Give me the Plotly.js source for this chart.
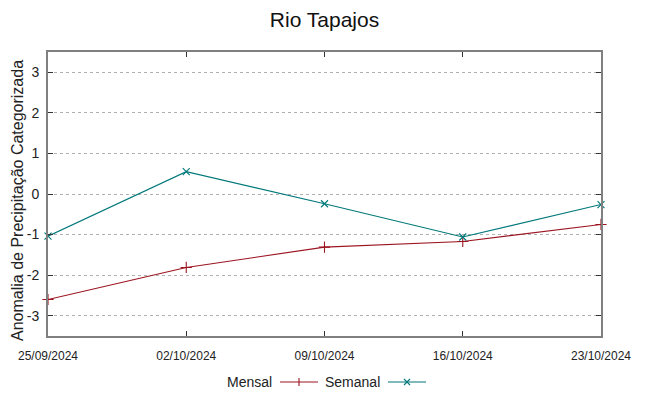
<!DOCTYPE html>
<html>
<head>
<meta charset="utf-8">
<script src="https://cdn.plot.ly/plotly-3.0.1.min.js"></script>
<style>html,body{margin:0;padding:0;background:#fff;}#chart{width:649px;height:396px;}</style>
</head>
<body>
<div id="chart"></div>
<script>
const dates = ["2024-09-25", "2024-10-02", "2024-10-09", "2024-10-16", "2024-10-23"];
const tickLabels = ["25/09/2024", "02/10/2024", "09/10/2024", "16/10/2024", "23/10/2024"];
const yTickVals = [-3, -2, -1, 0, 1, 2, 3];
const yTickLabels = ["-3", "-2", "-1", "0", "1", "2", "3"];
const mensal = [-2.60, -1.81, -1.31, -1.17, -0.75];
const semanal = [-1.04, 0.55, -0.24, -1.06, -0.26];
const seriesNames = ["Mensal", "Semanal"];
const colors = ["#9c1420", "#00787a"];

const traces = [
  {x: dates, y: mensal, name: seriesNames[0], type: "scatter", mode: "lines+markers",
   line: {color: colors[0], width: 1.1},
   marker: {symbol: "cross-thin", size: 8, line: {color: colors[0], width: 1.1}},
   cliponaxis: false, showlegend: false},
  {x: dates, y: semanal, name: seriesNames[1], type: "scatter", mode: "lines+markers",
   line: {color: colors[1], width: 1.1},
   marker: {symbol: "x-thin", size: 7, line: {color: colors[1], width: 1.1}},
   cliponaxis: false, showlegend: false}
];

// manual gnuplot-style legend (text left of sample)
const W = 553, H = 284, L = 48, T = 52;
const px = v => (v - L) / W;
const py = v => (T + H - v) / H;
const legY = 382;
const shapes = [
  {type: "line", xref: "paper", yref: "paper", x0: px(280), x1: px(318), y0: py(legY), y1: py(legY), line: {color: colors[0], width: 1.1}},
  {type: "line", xref: "paper", yref: "paper", x0: px(299), x1: px(299), y0: py(legY - 4), y1: py(legY + 4), line: {color: colors[0], width: 1.1}},
  {type: "line", xref: "paper", yref: "paper", x0: px(388), x1: px(426), y0: py(legY), y1: py(legY), line: {color: colors[1], width: 1.1}},
  {type: "line", xref: "paper", yref: "paper", x0: px(404), x1: px(410), y0: py(legY - 3), y1: py(legY + 3), line: {color: colors[1], width: 1.1}},
  {type: "line", xref: "paper", yref: "paper", x0: px(404), x1: px(410), y0: py(legY + 3), y1: py(legY - 3), line: {color: colors[1], width: 1.1}}
];
const fontFam = "Liberation Sans, Arial, sans-serif";
const annotations = [
  {xref: "paper", yref: "paper", x: px(274), y: py(legY), text: seriesNames[0], showarrow: false, xanchor: "right", yanchor: "middle", font: {family: fontFam, size: 14, color: "#222"}},
  {xref: "paper", yref: "paper", x: px(382), y: py(legY), text: seriesNames[1], showarrow: false, xanchor: "right", yanchor: "middle", font: {family: fontFam, size: 14, color: "#222"}},
  {xref: "paper", yref: "paper", x: px(17), y: py(201), text: "Anomalia de Precipitação Categorizada", textangle: -90, showarrow: false, xanchor: "center", yanchor: "middle", borderpad: 0, font: {family: fontFam, size: 16, color: "#222"}}
];

const layout = {
  width: 649, height: 396,
  margin: {l: 48, r: 48, t: 52, b: 60},
  paper_bgcolor: "#fff", plot_bgcolor: "#fff",
  font: {family: fontFam, color: "#222"},
  title: {text: "Rio Tapajos", x: 0.5, xanchor: "center", y: 0.95, yanchor: "middle", font: {size: 21, color: "#111"}},
  showlegend: false,
  xaxis: {
    type: "date", range: [dates[0], dates[dates.length - 1]],
    tickvals: dates, ticktext: tickLabels,
    ticks: "inside", ticklen: 5, tickcolor: "#333", tickwidth: 1,
    showgrid: false, zeroline: false,
    showline: true, linecolor: "#808080", linewidth: 2, mirror: "ticks",
    tickfont: {size: 12, color: "#222"}, ticklabelstandoff: 8
  },
  yaxis: {
    range: [-3.5, 3.5], tickvals: yTickVals, ticktext: yTickLabels,
    ticks: "inside", ticklen: 5, tickcolor: "#333", tickwidth: 1,
    showgrid: true, gridcolor: "#b0b0b0", griddash: "dot", gridwidth: 1,
    zeroline: false,
    showline: true, linecolor: "#808080", linewidth: 2, mirror: "ticks",
    tickfont: {size: 14, color: "#222"}, ticklabelstandoff: 4
  },
  shapes: shapes,
  annotations: annotations
};

Plotly.newPlot("chart", traces, layout, {displayModeBar: false, staticPlot: true});
</script>
</body>
</html>
